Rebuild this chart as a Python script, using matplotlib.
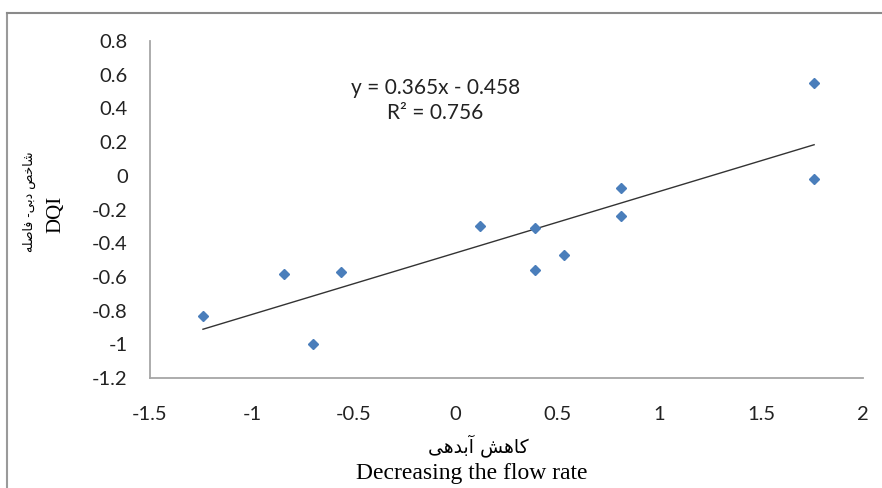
import numpy as np
import matplotlib.pyplot as plt
from matplotlib.lines import Line2D

# data
flow_drop = [-1.24, -0.84, -0.70, -0.56, 0.12, 0.39, 0.39, 0.53, 0.81, 0.81, 1.76, 1.76]
dqi = [-0.83, -0.58, -1.00, -0.57, -0.30, -0.31, -0.56, -0.47, -0.07, -0.24, 0.55, -0.02]
slope = 0.365
intercept = -0.458
r2 = 0.756
x_ticks = [-1.5, -1, -0.5, 0, 0.5, 1, 1.5, 2]
y_ticks = [-1.2, -1, -0.8, -0.6, -0.4, -0.2, 0, 0.2, 0.4, 0.6, 0.8]

# minimal persian shaping (matplotlib has no RTL layout)
FORMS = {
    "\u0627": ("\uFE8D", "\uFE8E", None, None),
    "\u0622": ("\uFE81", "\uFE82", None, None),
    "\u062F": ("\uFEA9", "\uFEAA", None, None),
    "\u0628": ("\uFE8F", "\uFE90", "\uFE91", "\uFE92"),
    "\u062E": ("\uFEA5", "\uFEA6", "\uFEA7", "\uFEA8"),
    "\u0634": ("\uFEB5", "\uFEB6", "\uFEB7", "\uFEB8"),
    "\u0635": ("\uFEB9", "\uFEBA", "\uFEBB", "\uFEBC"),
    "\u0641": ("\uFED1", "\uFED2", "\uFED3", "\uFED4"),
    "\u0644": ("\uFEDD", "\uFEDE", "\uFEDF", "\uFEE0"),
    "\u0647": ("\uFEE9", "\uFEEA", "\uFEEB", "\uFEEC"),
    "\u06A9": ("\uFB8E", "\uFB8F", "\uFB90", "\uFB91"),
    "\u06CC": ("\uFBFC", "\uFBFD", "\uFBFE", "\uFBFF"),
}


def shape(text):
    out = []
    for i, ch in enumerate(text):
        if ch not in FORMS:
            out.append(ch)
            continue
        prev = text[i - 1] if i > 0 else ""
        nxt = text[i + 1] if i + 1 < len(text) else ""
        joins_prev = prev in FORMS and FORMS[prev][2] is not None
        joins_next = FORMS[ch][2] is not None and nxt in FORMS
        iso, fin, ini, med = FORMS[ch]
        if joins_prev and joins_next:
            out.append(med)
        elif joins_prev:
            out.append(fin)
        elif joins_next:
            out.append(ini)
        else:
            out.append(iso)
    return "".join(out)[::-1]


fig = plt.figure(figsize=(8.82, 4.88), dpi=100)
ax = fig.add_axes([150 / 882, 1 - 378 / 488, 713 / 882, 337 / 488])

ax.plot(flow_drop, dqi, "D", color="#4A7EBB", markersize=5.5, zorder=3)
xs = np.array([min(flow_drop), max(flow_drop)])
ax.plot(xs, slope * xs + intercept, color="#333333", linewidth=1.0)

ax.set_xlim(-1.5, 2)
ax.set_ylim(-1.2, 0.8)
ax.set_xticks(x_ticks)
ax.set_yticks(y_ticks)
ax.set_xticklabels([f"{v:g}" for v in x_ticks])
ax.set_yticklabels([f"{v:g}" for v in y_ticks])
ax.tick_params(length=0, labelsize=14.5, colors="#222222")
ax.tick_params(axis="x", pad=20)
ax.tick_params(axis="y", pad=16)
for lbl in ax.get_xticklabels() + ax.get_yticklabels():
    lbl.set_family("Lato")
for s in ["top", "right"]:
    ax.spines[s].set_visible(False)
for s in ["left", "bottom"]:
    ax.spines[s].set_color("#A6A6A6")
    ax.spines[s].set_linewidth(1.3)

ax.text(-0.1, 0.52, f"y = {slope}x - {abs(intercept)}", ha="center", va="center",
        fontsize=15, family="Lato", color="#222222")
ax.text(-0.1, 0.372, f"R\u00b2 = {r2}", ha="center", va="center",
        fontsize=15, family="Lato", color="#222222")

# axis titles
fig.text(478 / 882, 1 - 446 / 488, shape("کاهش آبدهی"), ha="center", va="center",
         fontsize=13.5, family="DejaVu Sans")
fig.text(472 / 882, 1 - 474 / 488, "Decreasing the flow rate", ha="center", va="center",
         fontsize=17, family="Liberation Serif")
fig.text(29 / 882, 1 - 202 / 488, shape("شاخص دبی- فاصله"), ha="center", va="center",
         rotation=90, fontsize=9, family="DejaVu Sans")
fig.text(56 / 882, 1 - 214 / 488, "DQI", ha="center", va="center",
         rotation=90, fontsize=15, family="Liberation Serif")

# outer chart frame
fig.add_artist(Line2D([7 / 882, 7 / 882], [0, 1 - 13 / 488], color="#9A9A9A", linewidth=1.5))
fig.add_artist(Line2D([7 / 882, 1], [1 - 13 / 488, 1 - 13 / 488], color="#8A8A8A", linewidth=1.5))

fig.savefig("out.png", dpi=100)
